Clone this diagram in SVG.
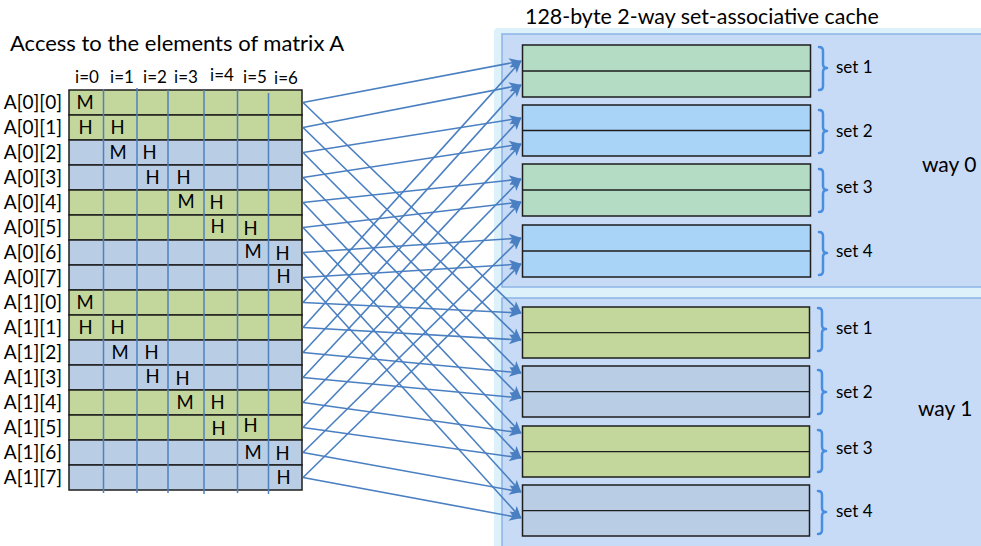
<svg xmlns="http://www.w3.org/2000/svg" width="981" height="546" viewBox="0 0 981 546">
<defs>
<style>
text{font-family:Lato,"Liberation Sans",sans-serif;fill:#000}
.title{font-size:22px}
.lbl{font-size:19px;text-anchor:end}
.col{font-size:17px;text-anchor:middle}
.mh{font-size:18.5px}
.set{font-size:17px}
.way{font-size:21px}
.g{fill:#c3d69b;stroke:#1e1e1e;stroke-width:1.5}
.b{fill:#b9cde5;stroke:#1e1e1e;stroke-width:1.5}
.mint{fill:#b4dbc4;stroke:#1e1e1e;stroke-width:1.5}
.sky{fill:#aad3f8;stroke:#1e1e1e;stroke-width:1.5}
.div{stroke:#1e1e1e;stroke-width:1.3}
.vline{stroke:#4f81bd;stroke-width:1.5}
.con path{fill:none;stroke:#4a7fc1;stroke-width:1.6;marker-end:url(#arr)}
.brace{fill:none;stroke:#4a8ee0;stroke-width:2.5;stroke-linecap:round;stroke-linejoin:round}
.glow{fill:#dcf1fa}
.panel{fill:#c7dbf6;stroke:#8cb4e6;stroke-width:1.5}
</style>
<marker id="arr" viewBox="0 0 10 8" refX="9.5" refY="4" markerWidth="13" markerHeight="10" markerUnits="userSpaceOnUse" orient="auto">
<path d="M0,0 L10,4 L0,8 L2.5,4 Z" fill="#4a7fc1"/>
</marker>
</defs>
<rect width="981" height="546" fill="#fff"/>

<g id="cache-panels">
<rect class="glow" x="494" y="28" width="495" height="265" rx="4"/>
<rect class="glow" x="494" y="291" width="495" height="265" rx="4"/>
<rect class="panel" x="502" y="34" width="490" height="253"/>
<rect class="panel" x="502" y="298" width="490" height="260"/>
</g>

<text class="title" x="10" y="51">Access to the elements of matrix A</text>
<text class="title" x="525" y="24" style="font-size:21.4px">128-byte 2-way set-associative cache</text>

<g id="col-headers">
<text class="col" x="87" y="83">i=0</text>
<text class="col" x="122" y="83">i=1</text>
<text class="col" x="155" y="83">i=2</text>
<text class="col" x="186" y="83">i=3</text>
<text class="col" x="222" y="81">i=4</text>
<text class="col" x="255" y="83">i=5</text>
<text class="col" x="286" y="84">i=6</text>
</g>

<g id="matrix">
<g id="r0"><rect class="g" x="69" y="90" width="233" height="25"/><text class="lbl" x="62" y="108.5">A[0][0]</text><text class="mh" x="76.5" y="109">M</text></g>
<g id="r1"><rect class="g" x="69" y="115" width="233" height="25"/><text class="lbl" x="62" y="133.5">A[0][1]</text><text class="mh" x="78.5" y="134">H</text><text class="mh" x="110.5" y="134">H</text></g>
<g id="r2"><rect class="b" x="69" y="140" width="233" height="25"/><text class="lbl" x="62" y="158.5">A[0][2]</text><text class="mh" x="109.5" y="159">M</text><text class="mh" x="142.5" y="159">H</text></g>
<g id="r3"><rect class="b" x="69" y="165" width="233" height="25"/><text class="lbl" x="62" y="183.5">A[0][3]</text><text class="mh" x="145.5" y="184">H</text><text class="mh" x="176.5" y="184">H</text></g>
<g id="r4"><rect class="g" x="69" y="190" width="233" height="25"/><text class="lbl" x="62" y="208.5">A[0][4]</text><text class="mh" x="177.5" y="208">M</text><text class="mh" x="209.5" y="209">H</text></g>
<g id="r5"><rect class="g" x="69" y="215" width="233" height="25"/><text class="lbl" x="62" y="233.5">A[0][5]</text><text class="mh" x="210.5" y="233">H</text><text class="mh" x="243.5" y="235">H</text></g>
<g id="r6"><rect class="b" x="69" y="240" width="233" height="25"/><text class="lbl" x="62" y="258.5">A[0][6]</text><text class="mh" x="244.5" y="258">M</text><text class="mh" x="275.5" y="260">H</text></g>
<g id="r7"><rect class="b" x="69" y="265" width="233" height="25"/><text class="lbl" x="62" y="283.5">A[0][7]</text><text class="mh" x="276.5" y="283">H</text></g>
<g id="r8"><rect class="g" x="69" y="290" width="233" height="25"/><text class="lbl" x="62" y="308.5">A[1][0]</text><text class="mh" x="76.5" y="309">M</text></g>
<g id="r9"><rect class="g" x="69" y="315" width="233" height="25"/><text class="lbl" x="62" y="333.5">A[1][1]</text><text class="mh" x="78.5" y="334">H</text><text class="mh" x="110.5" y="334">H</text></g>
<g id="r10"><rect class="b" x="69" y="340" width="233" height="25"/><text class="lbl" x="62" y="358.5">A[1][2]</text><text class="mh" x="111.5" y="359">M</text><text class="mh" x="144.5" y="359">H</text></g>
<g id="r11"><rect class="b" x="69" y="365" width="233" height="25"/><text class="lbl" x="62" y="383.5">A[1][3]</text><text class="mh" x="145.5" y="383">H</text><text class="mh" x="175.5" y="385">H</text></g>
<g id="r12"><rect class="g" x="69" y="390" width="233" height="25"/><text class="lbl" x="62" y="408.5">A[1][4]</text><text class="mh" x="176.5" y="409">M</text><text class="mh" x="210.5" y="409">H</text></g>
<g id="r13"><rect class="g" x="69" y="415" width="233" height="25"/><text class="lbl" x="62" y="433.5">A[1][5]</text><text class="mh" x="211.5" y="435">H</text><text class="mh" x="243.5" y="432">H</text></g>
<g id="r14"><rect class="b" x="69" y="440" width="233" height="25"/><text class="lbl" x="62" y="458.5">A[1][6]</text><text class="mh" x="244.5" y="459">M</text><text class="mh" x="275.5" y="460">H</text></g>
<g id="r15"><rect class="b" x="69" y="465" width="233" height="25"/><text class="lbl" x="62" y="483.5">A[1][7]</text><text class="mh" x="276.5" y="484">H</text></g>
<g id="col-lines">
<line class="vline" x1="103.5" y1="89" x2="103.5" y2="493"/>
<line class="vline" x1="137" y1="88" x2="137" y2="493"/>
<line class="vline" x1="168" y1="90" x2="168" y2="493"/>
<line class="vline" x1="204" y1="90" x2="204" y2="494"/>
<line class="vline" x1="237.5" y1="90" x2="237.5" y2="493"/>
<line class="vline" x1="268.5" y1="93" x2="268.5" y2="494"/>
</g>
</g>

<g id="way0">
<g id="w0s1"><rect class="mint" x="522.5" y="45" width="288" height="52"/><line class="div" x1="522.5" y1="71" x2="810.5" y2="71"/><path class="brace" d="M819,47 Q823,47 823,51 L823,64 Q823,68 827,68 Q823,68 823,72 L823,86 Q823,90 819,90"/><text class="set" x="836" y="73">set 1</text></g>
<g id="w0s2"><rect class="sky" x="522.5" y="105" width="288" height="51"/><line class="div" x1="522.5" y1="130.5" x2="810.5" y2="130.5"/><path class="brace" d="M819,110 Q823,110 823,114 L823,127 Q823,131 827,131 Q823,131 823,135 L823,149 Q823,153 819,153"/><text class="set" x="836" y="137">set 2</text></g>
<g id="w0s3"><rect class="mint" x="522.5" y="164" width="288" height="52"/><line class="div" x1="522.5" y1="190" x2="810.5" y2="190"/><path class="brace" d="M819,169 Q823,169 823,173 L823,186 Q823,190 827,190 Q823,190 823,194 L823,208 Q823,212 819,212"/><text class="set" x="836" y="193">set 3</text></g>
<g id="w0s4"><rect class="sky" x="522.5" y="225" width="288" height="52"/><line class="div" x1="522.5" y1="251" x2="810.5" y2="251"/><path class="brace" d="M819,232 Q823,232 823,236 L823,249 Q823,253 827,253 Q823,253 823,257 L823,271 Q823,275 819,275"/><text class="set" x="836" y="257">set 4</text></g>
<text class="way" x="922" y="172">way 0</text>
</g>

<g id="way1">
<g id="w1s1"><rect class="g" x="522.5" y="307" width="287" height="51"/><line class="div" x1="522.5" y1="332.7" x2="809.5" y2="332.7"/><path class="brace" d="M818,308 Q822,308 822,312 L822,325 Q822,329 826,329 Q822,329 822,333 L822,347 Q822,351 818,351"/><text class="set" x="836" y="334">set 1</text></g>
<g id="w1s2"><rect class="b" x="522.5" y="366" width="287" height="51"/><line class="div" x1="522.5" y1="391.7" x2="809.5" y2="391.7"/><path class="brace" d="M818,370 Q822,370 822,374 L822,388 Q822,392 826,392 Q822,392 822,396 L822,410 Q822,414 818,414"/><text class="set" x="836" y="398">set 2</text></g>
<g id="w1s3"><rect class="g" x="522.5" y="426" width="287" height="51"/><line class="div" x1="522.5" y1="451.7" x2="809.5" y2="451.7"/><path class="brace" d="M818,430 Q822,430 822,434 L822,447 Q822,451 826,451 Q822,451 822,455 L822,468 Q822,472 818,472"/><text class="set" x="836" y="454">set 3</text></g>
<g id="w1s4"><rect class="b" x="522.5" y="485" width="287" height="51"/><line class="div" x1="522.5" y1="510.7" x2="809.5" y2="510.7"/><path class="brace" d="M818,491 Q822,491 822,495 L822,508 Q822,512 826,512 Q822,512 822,516 L822,530 Q822,534 818,534"/><text class="set" x="836" y="517">set 4</text></g>
<text class="way" x="918" y="416">way 1</text>
</g>

<g id="connectors" class="con">
<path d="M303,102.5 L521,61"/><path d="M303,102.5 L521,313"/>
<path d="M303,127.5 L521,85"/><path d="M303,127.5 L521,340"/>
<path d="M303,152.5 L521,118"/><path d="M303,152.5 L521,373"/>
<path d="M303,177.5 L521,144"/><path d="M303,177.5 L521,398"/>
<path d="M303,202.5 L521,179"/><path d="M303,202.5 L521,433"/>
<path d="M303,227.5 L521,202"/><path d="M303,227.5 L521,458"/>
<path d="M303,252.5 L521,238"/><path d="M303,252.5 L521,492"/>
<path d="M303,277.5 L521,264"/><path d="M303,277.5 L521,518"/>
<path d="M303,302.5 L521,61"/><path d="M303,302.5 L521,313"/>
<path d="M303,327.5 L521,85"/><path d="M303,327.5 L521,340"/>
<path d="M303,352.5 L521,118"/><path d="M303,352.5 L521,373"/>
<path d="M303,377.5 L521,144"/><path d="M303,377.5 L521,398"/>
<path d="M303,402.5 L521,179"/><path d="M303,402.5 L521,433"/>
<path d="M303,427.5 L521,202"/><path d="M303,427.5 L521,458"/>
<path d="M303,452.5 L521,238"/><path d="M303,452.5 L521,492"/>
<path d="M303,477.5 L521,264"/><path d="M303,477.5 L521,518"/>
</g>
</svg>
